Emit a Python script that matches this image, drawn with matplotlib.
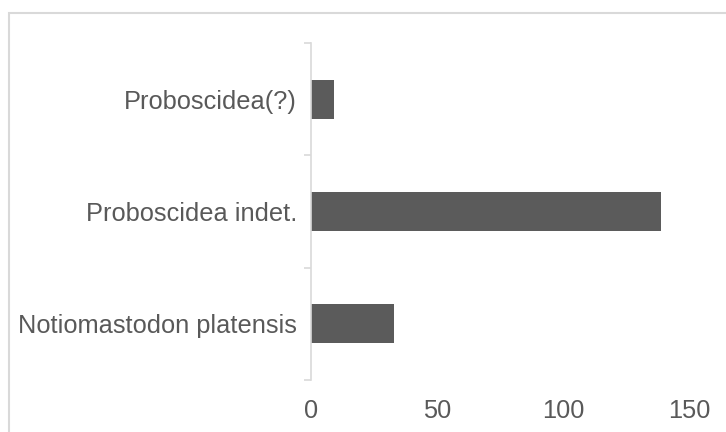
import matplotlib.pyplot as plt
from matplotlib.patches import Rectangle

taxa = ['Notiomastodon platensis', 'Proboscidea indet.', 'Proboscidea(?)']
counts = [33, 139, 9]
x_ticks = [0, 50, 100, 150]

plt.rcParams['font.family'] = ['Liberation Sans', 'DejaVu Sans']

fig = plt.figure(figsize=(7.26, 4.32), dpi=100)
ax = fig.add_axes([311 / 726, 1 - 380 / 432, (689 - 311) / 726, (380 - 43) / 432])

# outer chart frame, runs past the right and bottom edges
fig.patches.append(Rectangle((8.5 / 726, -0.1), 1.2, 1 - 13.5 / 432 + 0.1,
                             transform=fig.transFigure, fill=False,
                             edgecolor='#d9d9d9', linewidth=1.5))

ypos = list(range(len(taxa)))
ax.barh(ypos, counts, height=0.35, color='#5b5b5b')

ax.set_xlim(0, 150)
ax.set_ylim(-0.5, len(taxa) - 0.5)
ax.set_xticks(x_ticks)
ax.set_yticks(ypos)
ax.set_yticklabels(taxa)
ax.set_yticks([y - 0.5 for y in range(len(taxa) + 1)], minor=True)

for s in ['top', 'right', 'bottom']:
    ax.spines[s].set_visible(False)
ax.spines['left'].set_color('#d9d9d9')
ax.spines['left'].set_linewidth(1.2)

ax.tick_params(axis='y', which='major', length=0, pad=10, labelsize=18.3, labelcolor='#595959')
ax.tick_params(axis='y', which='minor', length=5, width=1.2, color='#d9d9d9')
ax.tick_params(axis='x', length=0, pad=14, labelsize=18.3, labelcolor='#595959')

fig.savefig('out.png', dpi=100, facecolor='white')
